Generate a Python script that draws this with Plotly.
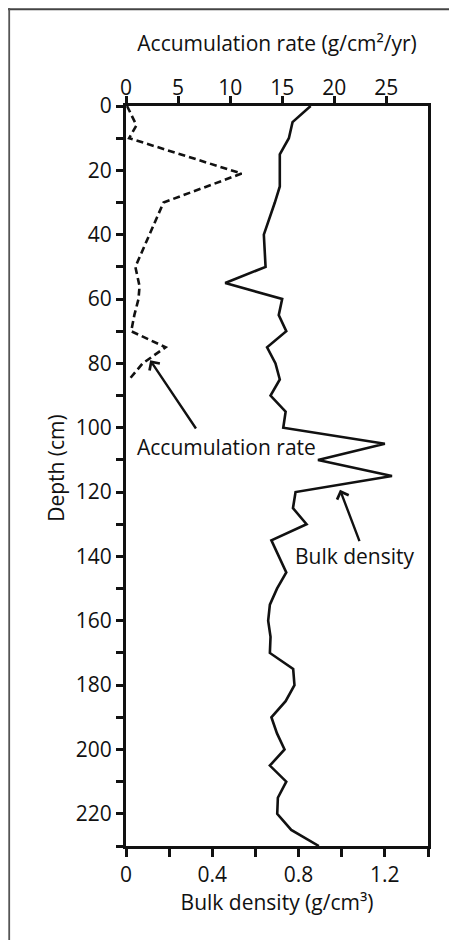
import plotly.graph_objects as go

# Bulk density profile (g/cm3) sampled every 5 cm
depth_bd = list(range(0, 235, 5))
bulk_density = [
    0.856, 0.772, 0.755, 0.713, 0.713, 0.713, 0.69, 0.665, 0.639, 0.643,
    0.647, 0.46, 0.724, 0.708, 0.743, 0.654, 0.693, 0.713, 0.670, 0.740,
    0.729, 1.20, 0.89, 1.233, 0.786, 0.774, 0.837, 0.674, 0.71, 0.743,
    0.70, 0.667, 0.659, 0.670, 0.667, 0.775, 0.781, 0.74, 0.674, 0.70,
    0.735, 0.667, 0.743, 0.704, 0.701, 0.766, 0.894,
]

# Accumulation rate (g/cm2/yr), upper 85 cm only
depth_ar = [0, 6, 10, 21, 30, 50, 56, 60, 65, 70, 75, 80, 85]
accum_rate = [0.1, 1.0, 0.3, 11.1, 3.6, 0.9, 1.3, 1.2, 0.8, 0.5, 3.8, 1.6, 0.3]

# ticks
bd_tickvals = [0, 0.2, 0.4, 0.6, 0.8, 1.0, 1.2, 1.4]
bd_ticktext = ["0", "", "0.4", "", "0.8", "", "1.2", ""]
ar_tickvals = [0, 5, 10, 15, 20, 25]
depth_tickvals = list(range(0, 240, 10))
depth_ticktext = [str(d) if d % 20 == 0 and d < 230 else "" for d in depth_tickvals]

FONT = "Open Sans"
FS = 21
INK = "#111111"
# page body has an 8px margin, so the figure is sized/offset for that
W, H = 449, 932
ML, MR, MT, MB = 118, 29, 98, 94

fig = go.Figure()

fig.add_trace(go.Scatter(
    x=bulk_density, y=depth_bd,
    mode="lines",
    line=dict(color=INK, width=2.6),
    xaxis="x", yaxis="y",
    showlegend=False,
))
fig.add_trace(go.Scatter(
    x=accum_rate, y=depth_ar,
    mode="lines",
    line=dict(color=INK, width=2.6, dash="7px,4px"),
    xaxis="x2", yaxis="y",
    showlegend=False,
))

axis_common = dict(
    showgrid=False, zeroline=False,
    showline=True, linecolor=INK, linewidth=3,
    ticks="outside", tickcolor=INK, tickwidth=2.5,
    tickfont=dict(family=FONT, size=FS, color=INK),
)

fig.update_layout(
    width=W, height=H,
    margin=dict(l=ML, r=MR, t=MT, b=MB),
    paper_bgcolor="white", plot_bgcolor="white",
    font=dict(family=FONT, color=INK),
    xaxis=dict(
        range=[0, 1.4],
        tickmode="array", tickvals=bd_tickvals, ticktext=bd_ticktext,
        ticklen=8, mirror=True,
        title=dict(text="Bulk density (g/cm³)", font=dict(family=FONT, size=FS), standoff=8),
        **axis_common,
    ),
    xaxis2=dict(
        range=[0, 29], overlaying="x", side="top",
        tickmode="array", tickvals=ar_tickvals,
        ticklen=7, ticklabelstandoff=-7,
        title=dict(text="Accumulation rate (g/cm²/yr)", font=dict(family=FONT, size=FS), standoff=16),
        **axis_common,
    ),
    yaxis=dict(
        range=[230, 0],
        tickmode="array", tickvals=depth_tickvals, ticktext=depth_ticktext,
        ticklen=7, mirror=True,
        **axis_common,
    ),
)

pw, ph = W - ML - MR, H - MT - MB

# y axis title placed next to the depth labels
fig.add_annotation(
    x=(48 - ML) / pw, y=0.511, xref="paper", yref="paper",
    xanchor="center", yanchor="middle",
    text="Depth (cm)", textangle=-90, showarrow=False,
    font=dict(family=FONT, size=FS, color=INK),
)

# callouts
fig.add_annotation(
    x=0.112, y=79, ax=0.329, ay=100.7, axref="x", ayref="y",
    xref="x", yref="y", text="", showarrow=True,
    arrowhead=4, arrowsize=1.0, arrowwidth=2.4, arrowcolor=INK,
)
fig.add_annotation(
    x=0.465, y=106, xref="x", yref="y", text="Accumulation rate",
    showarrow=False, font=dict(family=FONT, size=FS, color=INK),
)
fig.add_annotation(
    x=0.992, y=119.3, ax=1.085, ay=135.7, axref="x", ayref="y",
    xref="x", yref="y", text="", showarrow=True,
    arrowhead=4, arrowsize=1.0, arrowwidth=2.4, arrowcolor=INK,
)
fig.add_annotation(
    x=1.06, y=140, xref="x", yref="y", text="Bulk density",
    showarrow=False, font=dict(family=FONT, size=FS, color=INK),
)

# outer frame: only its top and left edges fall inside the page
fx0 = (1.2 - ML) / pw
fy1 = (H - MB - 1.2) / ph
fig.add_shape(type="line", xref="paper", yref="paper",
              x0=fx0 - 0.01, x1=(W - ML) / pw, y0=fy1, y1=fy1,
              line=dict(color="#444444", width=2), layer="above")
fig.add_shape(type="line", xref="paper", yref="paper",
              x0=fx0, x1=fx0, y0=fy1 + 0.01, y1=-(MB + 30) / ph,
              line=dict(color="#555555", width=1.8))

fig.write_html("out.html")
